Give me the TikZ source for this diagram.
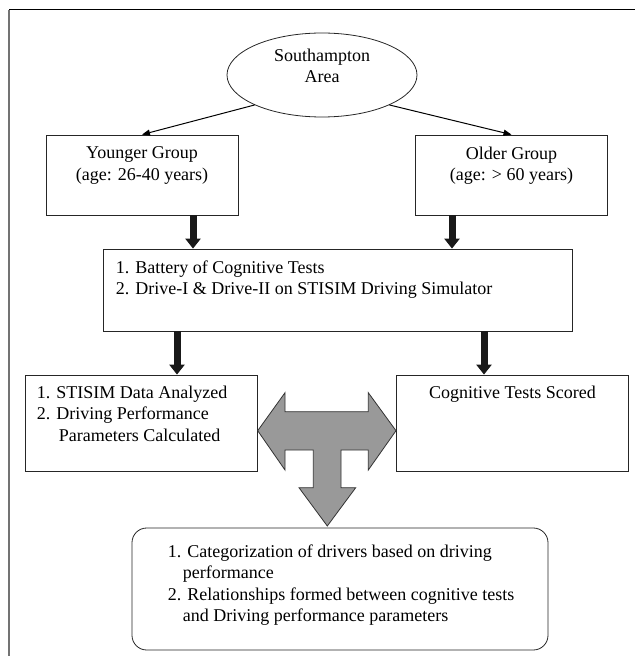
\documentclass[tikz,border=0pt]{standalone}
\usepackage{fontspec}
\setmainfont{Liberation Serif}
\usetikzlibrary{shapes.geometric,arrows.meta,positioning}

\begin{document}
\begin{tikzpicture}[
    x=0.75pt, y=-0.75pt,
    % Node styles
    areanode/.style={ellipse, draw=black!85, line width=0.6pt,
                     minimum width=142.5pt, minimum height=63pt},
    groupbox/.style={rectangle, draw=black!85, line width=0.6pt,
                     minimum width=144pt, minimum height=60pt},
    testbox/.style={rectangle, draw=black!85, line width=0.6pt,
                    minimum width=351.75pt, minimum height=61.5pt},
    resultbox/.style={rectangle, draw=black!85, line width=0.6pt,
                      minimum width=174pt, minimum height=72pt},
    finalbox/.style={rectangle, rounded corners=11pt, draw=black!85, line width=0.6pt,
                     minimum width=312pt, minimum height=91.5pt},
    boxtext/.style={inner sep=0pt, font=\fontsize{13.5}{16}\selectfont},
    arrow/.style={line width=0.75pt, -{Triangle[length=6pt,width=4.5pt]}, black},
    bigarrow/.style={line width=5.25pt, -{Triangle[length=7.5pt,width=11.25pt]}, black!90},
    teearrow/.style={draw=black!80, line width=0.6pt, fill=black!40},
    frameleft/.style={line width=1.5pt, black!55},
    frametop/.style={line width=0.75pt, black}
]
\useasboundingbox (0,0) rectangle (635,656);

% Frame
\draw[frameleft] (9,656) -- (9,10);
\draw[frametop] (9,10) -- (635,10);

% 1. Area
\node[areanode] (area) at (322,75) {};
\node[boxtext, align=center, below=12pt of area.north] (areatext) {Southampton\\Area};

% 2. Groups
\node[groupbox] (younger) at (142,175) {};
\node[boxtext, align=center, below=9pt of younger.north] (youngertext) {Younger Group\\(age: 26-40 years)};

\node[groupbox] (older) at (511.5,175) {};
\node[boxtext, align=center, below=9pt of older.north] (oldertext) {Older Group\\(age: > 60 years)};

% 3. Tests
\node[testbox] (tests) at (337.5,290) {};
\node[boxtext, align=left, below right=9pt and 9.75pt of tests.north west] (teststext) {1. Battery of Cognitive Tests\\2. Drive-I \& Drive-II on STISIM Driving Simulator};

% 4. Results
\node[resultbox] (analysed) at (141,423) {};
\node[boxtext, align=left, below right=8.25pt and 9pt of analysed.north west] (analysedtext) {1. STISIM Data Analyzed\\2. Driving Performance\\\hspace*{16.5pt}Parameters Calculated};

\node[resultbox] (scored) at (512.5,423) {};
\node[boxtext, align=center, below=8.25pt of scored.north] (scoredtext) {Cognitive Tests Scored};

% 5. Final
\node[finalbox] (final) at (340,589) {};
\node[boxtext, align=left, below right=12.75pt and 27pt of final.north west] (finaltext) {1. Categorization of drivers based on driving\\\hspace*{11.25pt}performance\\2. Relationships formed between cognitive tests\\\hspace*{11.25pt}and Driving performance parameters};

% Split arrows
\draw[arrow] (area.south west) -- (younger.north);
\draw[arrow] (area.south east) -- (older.north);

% Thick arrows
\draw[bigarrow] (193,0 |- younger.south) -- (193,0 |- tests.north);
\draw[bigarrow] (452,0 |- older.south) -- (452,0 |- tests.north);
\draw[bigarrow] (177,0 |- tests.south) -- (177,0 |- analysed.north);
\draw[bigarrow] (484,0 |- tests.south) -- (484,0 |- scored.north);

% Three-way arrow
\draw[teearrow] (257.7,430.7) -- (285,392.7) -- (285,411.7) -- (368.3,411.7)
    -- (368.3,392.7) -- (396,430.7) -- (368.3,470) -- (368.3,450) -- (341,450)
    -- (341,487.7) -- (355.7,487.7) -- (327.3,526) -- (299,487.7) -- (313.3,487.7)
    -- (313.3,450) -- (285,450) -- (285,470) -- cycle;

\end{tikzpicture}
\end{document}
